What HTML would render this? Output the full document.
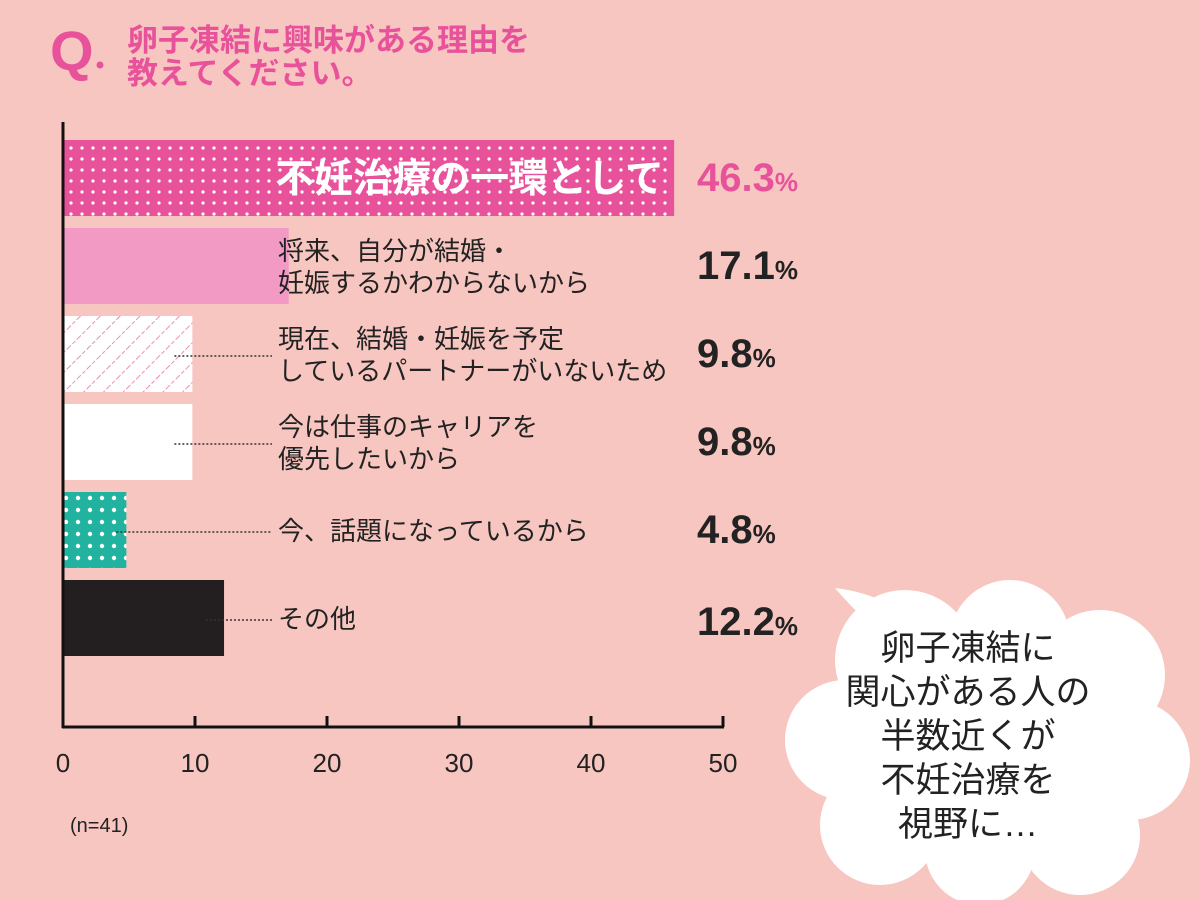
<!DOCTYPE html>
<html><head><meta charset="utf-8"><style>
html,body{margin:0;padding:0;background:#f8c6c0;}
svg{display:block;font-family:"Liberation Sans","Noto Sans CJK JP",sans-serif;}
</style></head><body>
<svg id="chart" width="1200" height="900" viewBox="0 0 1200 900" xmlns="http://www.w3.org/2000/svg">
<defs>
<pattern id="dotsPink" width="11" height="11" patternUnits="userSpaceOnUse"><rect width="11" height="11" fill="#e8529b"/><circle cx="5" cy="5" r="1.6" fill="#fff"/></pattern>
<pattern id="hatch" width="14" height="14" patternUnits="userSpaceOnUse" patternTransform="rotate(45)"><rect width="14" height="14" fill="#fff"/><line x1="0" y1="0" x2="0" y2="14" stroke="#e46aa8" stroke-width="1.5" stroke-dasharray="4 2"/></pattern>
<pattern id="dotsTeal" width="12" height="12" patternUnits="userSpaceOnUse"><rect width="12" height="12" fill="#21b3a0"/><circle cx="6" cy="6" r="2.2" fill="#fff"/></pattern>
</defs>
<rect width="1200" height="900" fill="#f8c6c0"/>
<g fill="#e8529b">
<text x="50" y="70" font-size="56" font-weight="bold">Q</text>
<circle cx="100" cy="65" r="3.5" fill="#e8529b"/>
<text x="127" y="51" font-size="31" font-weight="bold">卵子凍結に興味がある理由を</text>
<text x="127" y="84" font-size="31" font-weight="bold">教えてください。</text>
</g>
<g id="bars"></g>
<g id="axes"></g>
<text x="70" y="832" font-size="20" fill="#222">(n=41)</text>
<g fill="#fff">
<path d="M870 625 Q845 600 835 588 Q870 592 900 610 Z"/>
<circle cx="905" cy="660" r="70"/><circle cx="1010" cy="640" r="60"/><circle cx="1100" cy="675" r="65"/>
<circle cx="1130" cy="760" r="60"/><circle cx="1080" cy="835" r="60"/><circle cx="980" cy="850" r="55"/>
<circle cx="880" cy="825" r="60"/><circle cx="845" cy="740" r="60"/><circle cx="985" cy="745" r="110"/>
</g>
<g font-size="35" fill="#222" text-anchor="middle">
<text x="968" y="660">卵子凍結に</text>
<text x="968" y="704">関心がある人の</text>
<text x="968" y="748">半数近くが</text>
<text x="968" y="792">不妊治療を</text>
<text x="968" y="836">視野に…</text>
</g>
</svg>
<script>
const categories=[["不妊治療の一環として"],["将来、自分が結婚・","妊娠するかわからないから"],["現在、結婚・妊娠を予定","しているパートナーがいないため"],["今は仕事のキャリアを","優先したいから"],["今、話題になっているから"],["その他"]];
const values=[46.3,17.1,9.8,9.8,4.8,12.2];
const valueLabels=["46.3","17.1","9.8","9.8","4.8","12.2"];
const ticks=[0,10,20,30,40,50];
const NS="http://www.w3.org/2000/svg";
const fills=["url(#dotsPink)","#f29ac4","url(#hatch)","#fff","url(#dotsTeal)","#231f20"];
const x0=63,x1=723,xmax=50,yTop=140,step=88,bh=76;
const xs=v=>x0+(v/xmax)*(x1-x0);
const ys=i=>yTop+i*step;
function mk(t,a,p){const e=document.createElementNS(NS,t);for(const k in a)e.setAttribute(k,a[k]);p.appendChild(e);return e;}
const gb=document.getElementById('bars');
values.forEach((v,i)=>{
 const y=ys(i);
 const r=mk('rect',{x:x0,y:y,width:xs(v)-x0,height:bh,fill:fills[i]},gb);
 
 
 const lines=categories[i];
 if(i>=2){
  const ly=y+bh/2+2;
  const d=mk('line',{x1:xs(v)-(i==4?10:18),y1:ly,x2:272,y2:ly,stroke:'#333','stroke-width':1.5,'stroke-dasharray':'2 2'},gb);
  
  
 }
 if(i==0){
  const t=mk('text',{x:664,y:y+bh/2+14,'font-size':39,fill:'#fff','text-anchor':'end','font-weight':'bold'},gb);
  t.textContent=lines[0];
  
  
 }else{
  lines.forEach((l,j)=>{
   const off=lines.length==1?bh/2+10:bh/2-6+j*32;
   const t=mk('text',{x:278,y:y+off,'font-size':26,fill:'#222'},gb);
   t.textContent=l;
   
   
  });
 }
 const vt=mk('text',{x:697,y:y+bh/2+(i==5?17:13),'font-size':40,'font-weight':'bold',fill:i==0?'#e8529b':'#222'},gb);
 vt.textContent=valueLabels[i];
 const ps=mk('tspan',{'font-size':26},vt);ps.textContent='%';
 
 
});
const ga=document.getElementById('axes');
const ya=mk('line',{x1:x0,y1:122,x2:x0,y2:728,stroke:'#111','stroke-width':3},ga);


const xa=mk('line',{x1:x0-1,y1:727,x2:x1+1,y2:727,stroke:'#111','stroke-width':3},ga);


ticks.forEach(t=>{
 const x=xs(t);
 if(t>0){const tk=mk('line',{x1:x,y1:716,x2:x,y2:727,stroke:'#111','stroke-width':3},ga);
 
 }
 const tl=mk('text',{x:x,y:772,'font-size':26,fill:'#222','text-anchor':'middle'},ga);
 tl.textContent=t;
 
 
});
</script>
</body></html>
